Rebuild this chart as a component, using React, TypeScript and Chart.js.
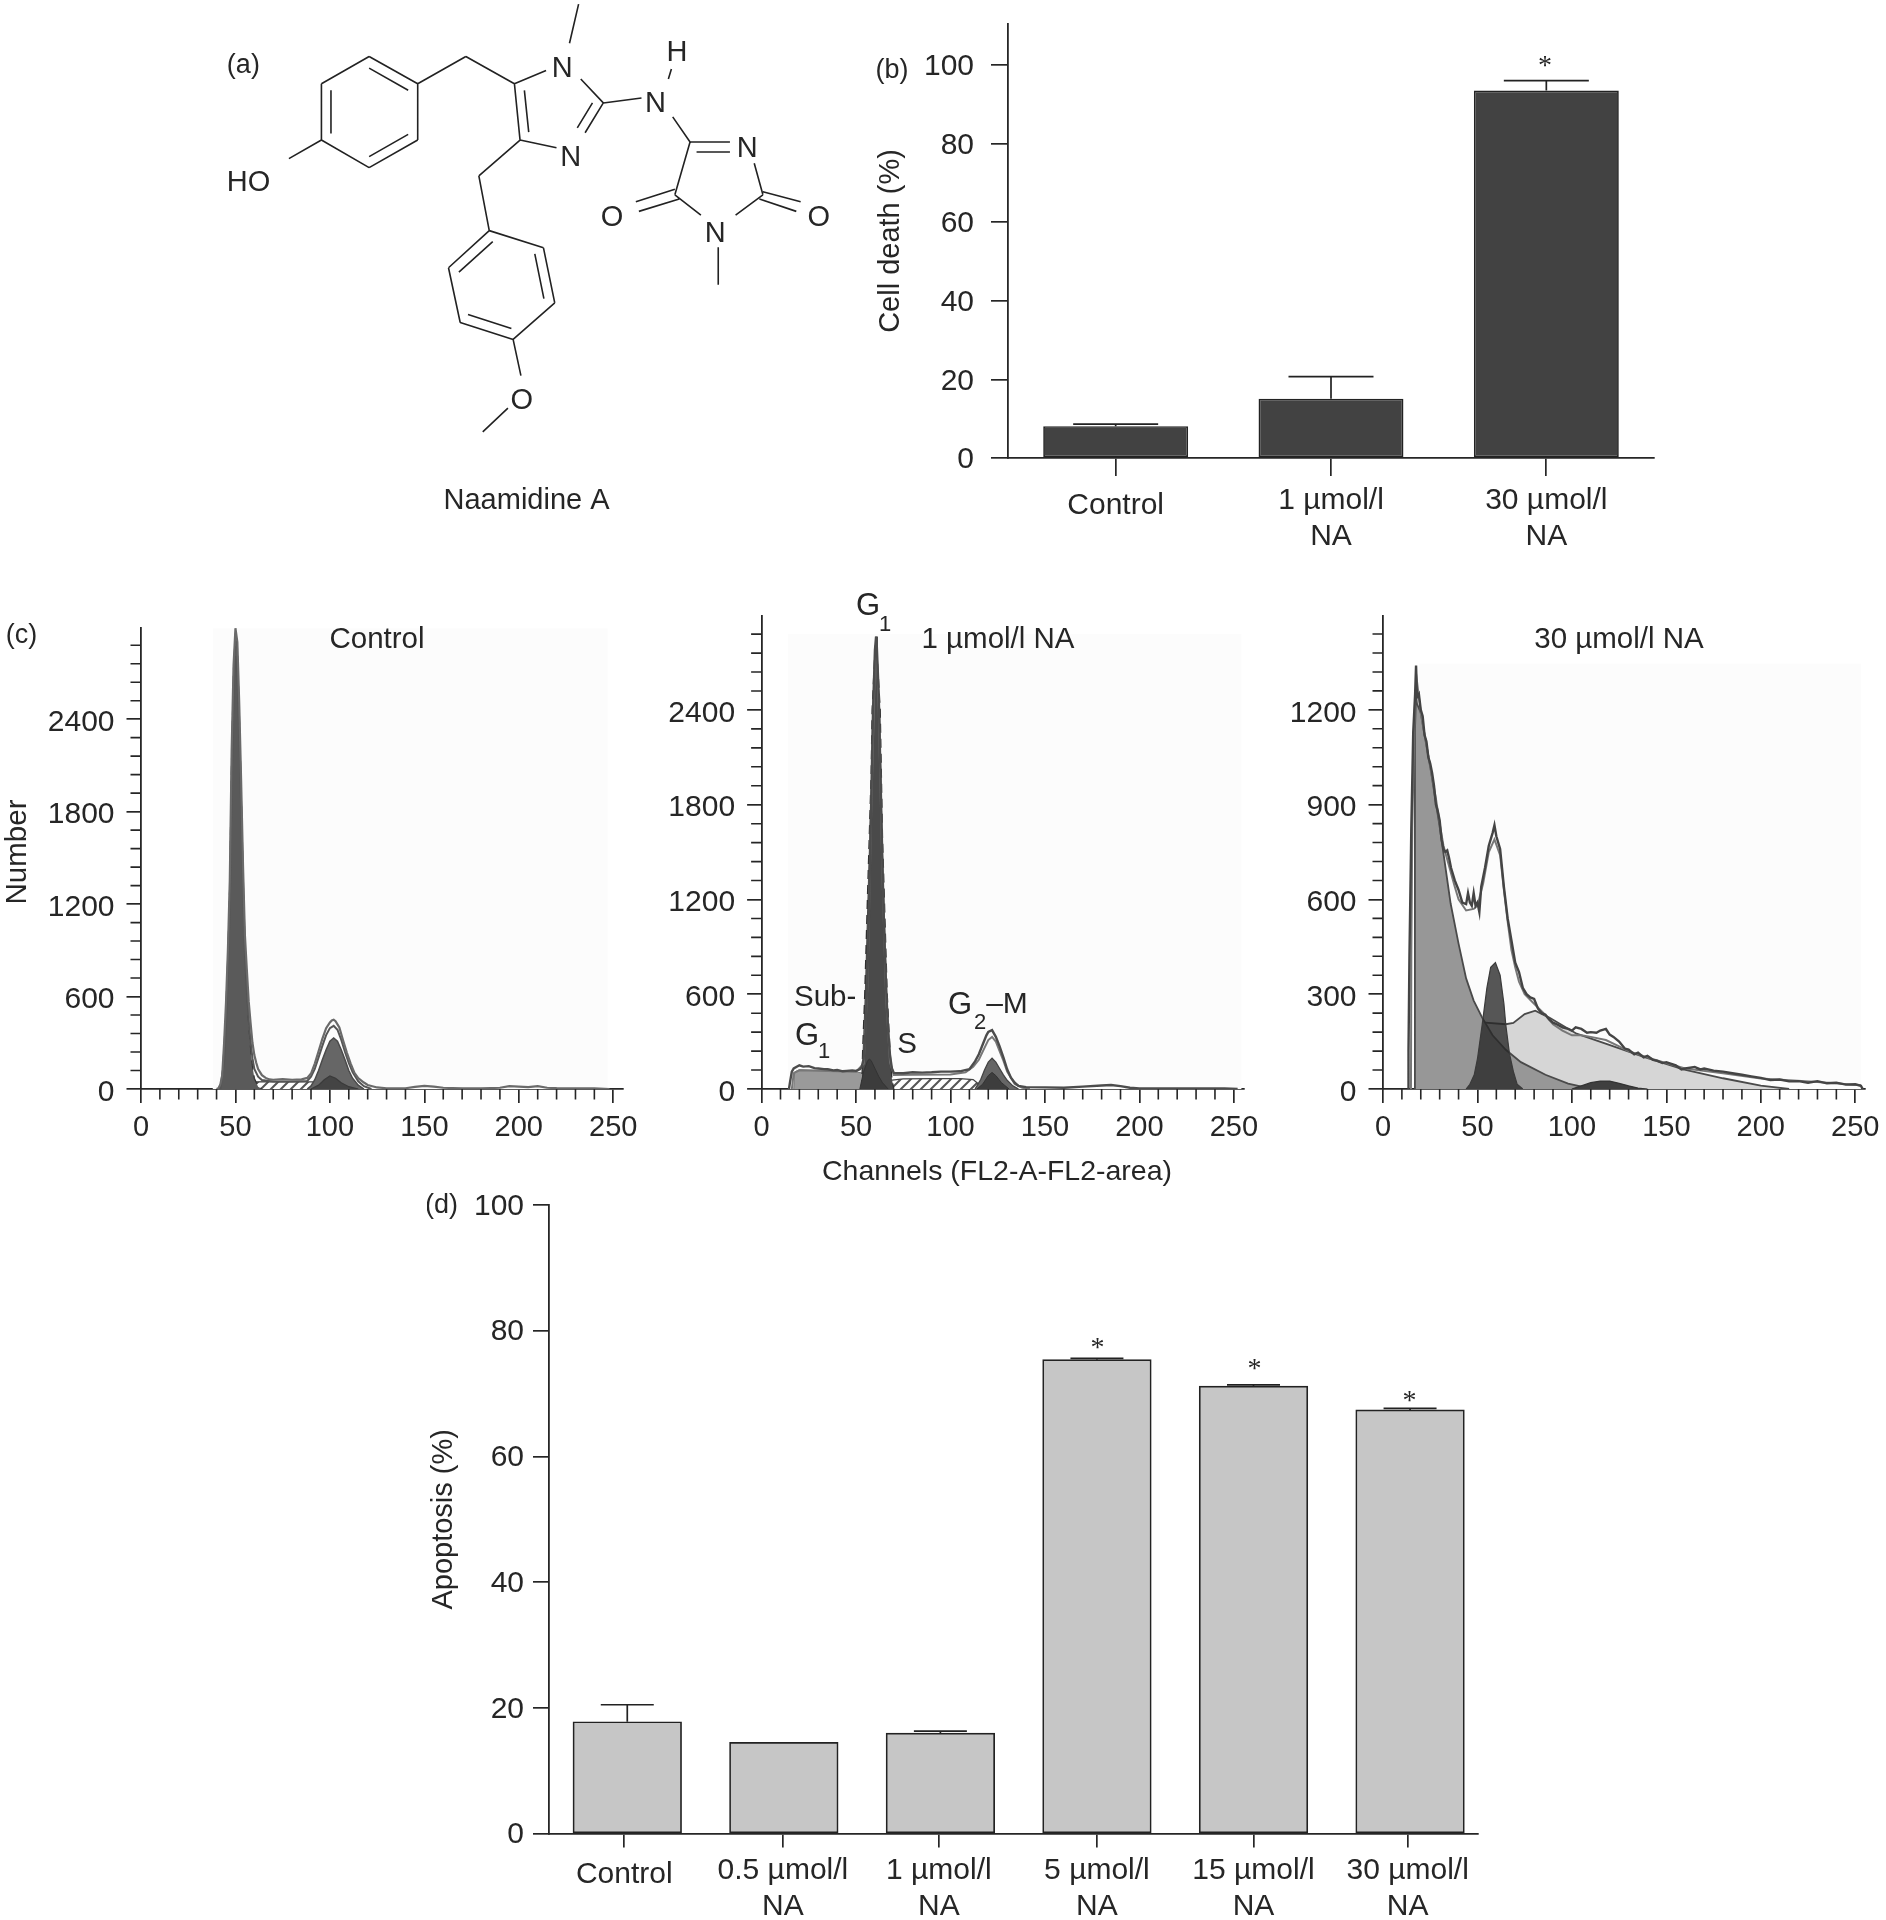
import React, { useEffect, useRef } from "react";
import { Chart, registerables } from "chart.js";

Chart.register(...registerables);

type Pair = [number, number];
type Rect = { L: number; T: number; W: number; H: number };
type Plot = { left: number; top: number; right: number; bottom: number };
type Note = { t: string; x: number; y: number; size?: number; rotate?: number; family?: string; align?: CanvasTextAlign };

const SANS = '"Liberation Sans", Arial, sans-serif';
const SERIF = '"Liberation Serif", serif';
const INK = "#262626";

// ---- panel (b) ----
const bCategories = [["Control"], ["1 µmol/l", "NA"], ["30 µmol/l", "NA"]];
const bValues = [8.1, 15.1, 93.5];
const bErrorTops = [8.6, 20.7, 96];
const bTicks = [0, 20, 40, 60, 80, 100];

// ---- panel (d) ----
const dCategories = [["Control"], ["0.5 µmol/l", "NA"], ["1 µmol/l", "NA"], ["5 µmol/l", "NA"], ["15 µmol/l", "NA"], ["30 µmol/l", "NA"]];
const dValues = [17.8, 14.5, 16, 75.4, 71.2, 67.4];
const dErrorTops = [20.5, 14.5, 16.3, 75.6, 71.4, 67.65];
const dTicks = [0, 20, 40, 60, 80, 100];
const dTickPositions = [-0.019, -0.006, -0.01, 0, 0, -0.015];

// ---- panel (c) axes ----
const cXTicks = [0, 50, 100, 150, 200, 250];
const cXMinor = [10, 20, 30, 40, 60, 70, 80, 90, 110, 120, 130, 140, 160, 170, 180, 190, 210, 220, 230, 240];
const c12YTicks = [0, 600, 1200, 1800, 2400];
const c12YMinor = [120, 240, 360, 480, 720, 840, 960, 1080, 1320, 1440, 1560, 1680, 1920, 2040, 2160, 2280, 2520, 2640, 2760, 2880];
const c3YTicks = [0, 300, 600, 900, 1200];
const c3YMinor = [60, 120, 180, 240, 360, 420, 480, 540, 660, 720, 780, 840, 960, 1020, 1080, 1140, 1260, 1320, 1380, 1440];

// ---- panel (c) Control ----
const c1Trace: Pair[] = [[40,0],[41,5],[42,30],[43,90],[44,300],[45,560],[46,900],[47,1350],[48,2200],[49,2750],[50,2990],[51,2900],[52,2500],[53,2000],[54,1450],[55,1000],[56,780],[57,570],[58,430],[59,300],[60,220],[61,170],[62,130],[64,90],[66,72],[68,62],[70,60],[75,64],[80,60],[85,63],[88,72],[90,100],[92,165],[94,245],[96,325],[98,395],[100,432],[101,445],[102,450],[103,440],[105,400],[107,315],[109,235],[111,165],[113,105],[115,70],[118,42],[120,26],[125,10],[130,5],[140,5],[145,14],[150,20],[155,15],[160,8],[170,5],[180,5],[190,8],[195,18],[200,15],[205,12],[210,18],[215,8],[220,6],[230,5],[240,4],[248,0]];
const c1Fit: Pair[] = [[42,0],[44,180],[45,420],[46,780],[47,1200],[48,2000],[49,2600],[50,2810],[51,2700],[52,2350],[53,1850],[54,1350],[55,900],[56,650],[57,450],[58,310],[59,200],[60,130],[62,80],[64,58],[70,48],[80,48],[88,52],[90,80],[92,130],[94,205],[96,280],[98,350],[100,395],[102,410],[104,385],[106,320],[108,240],[110,170],[112,110],[115,50],[118,18],[122,0]];
const c1G1: Pair[] = [[41,0],[42,25],[43,80],[44,280],[45,540],[46,880],[47,1330],[48,2170],[49,2730],[50,2960],[51,2870],[52,2460],[53,1960],[54,1400],[55,950],[56,660],[57,430],[58,270],[59,150],[60,70],[62,15],[64,0]];
const c1S: Pair[] = [[53,0],[56,40],[60,46],[70,48],[80,46],[90,46],[98,44],[104,20],[110,0]];
const c1G2: Pair[] = [[88,0],[90,20],[92,60],[94,120],[96,190],[98,255],[100,310],[102,331],[104,310],[106,255],[108,190],[110,120],[112,70],[115,25],[118,0]];
const c1G2Core: Pair[] = [[90,0],[94,25],[97,60],[100,85],[103,70],[106,40],[110,15],[115,0]];

// ---- panel (c) 1 µmol/l NA ----
const c2Trace: Pair[] = [[14.5,0],[15,40],[16,110],[17,130],[20,150],[22,142],[25,145],[28,132],[30,130],[33,126],[35,125],[38,118],[40,120],[43,112],[45,115],[48,118],[50,115],[52,125],[53,140],[54,190],[55,360],[56,700],[57,1200],[58,1800],[59,2400],[60,2780],[60.6,2865],[61,2800],[62,2500],[63,1950],[64,1400],[65,950],[66,620],[67,360],[68,210],[69,130],[70,102],[75,100],[80,106],[85,104],[90,106],[95,110],[100,110],[105,112],[110,125],[113,175],[115,220],[117,280],[119,340],[120,362],[122,373],[124,330],[126,270],[128,200],[130,125],[132,72],[134,40],[136,20],[140,12],[150,10],[160,8],[170,15],[180,22],[185,25],[190,18],[195,8],[200,4],[220,3],[235,4],[245,3],[252,0]];
const c2Fit: Pair[] = [[16,0],[17,100],[20,118],[30,115],[40,112],[50,110],[54,160],[56,650],[58,1750],[60,2700],[61,2750],[62,2420],[64,1350],[66,560],[68,170],[70,88],[80,90],[100,92],[108,105],[112,140],[115,185],[118,260],[120,310],[122,330],[124,300],[126,240],[128,180],[130,110],[134,32],[138,8],[142,0]];
const c2SubG1: Pair[] = [[17,0],[17.5,108],[20,122],[30,118],[40,112],[50,108],[54,100],[58,60],[62,20],[65,0]];
const c2G1: Pair[] = [[53,0],[53.5,250],[54.6,600],[56,1200],[58,2000],[58.5,2400],[60,2780],[60.6,2865],[61,2780],[62.8,2400],[64,1600],[65,1200],[66.5,600],[68,250],[69,60],[70,0]];
const c2Dip: Pair[] = [[52,0],[54,110],[56,175],[57,190],[58,180],[60,130],[62,80],[64,40],[67,0]];
const c2S: Pair[] = [[62,0],[68,55],[75,64],[90,66],[105,66],[112,60],[116,20],[120,0]];
const c2G2: Pair[] = [[113,0],[116,60],[118,120],[120,170],[122,195],[124,170],[126,130],[128,90],[130,55],[133,20],[136,0]];
const c2G2Core: Pair[] = [[114,0],[117,30],[120,85],[122,105],[124,85],[127,40],[131,0]];

// ---- panel (c) 30 µmol/l NA ----
const c3Trace: Pair[] = [[13.3,0],[13.5,120],[14,420],[15,830],[16,1130],[17,1250],[17.5,1340],[18,1240],[19,1250],[20,1200],[21,1180],[22,1120],[23,1100],[24,1050],[25,1030],[26,1000],[27,960],[28,900],[29,880],[30,850],[31,790],[32,760],[33,750],[34,755],[35,730],[36,700],[38,660],[40,630],[42,590],[44,585],[45,620],[46,590],[47,580],[48,620],[49,580],[50,590],[51,560],[52,640],[54,700],[56,770],[58,810],[59,835],[60,800],[62,760],[63,700],[64,640],[66,540],[68,470],[70,400],[71,385],[72,370],[74,320],[76,300],[78,290],[80,285],[82,255],[84,240],[86,235],[88,220],[90,210],[92,205],[95,195],[98,190],[100,185],[102,195],[105,190],[108,178],[110,180],[113,178],[115,185],[118,190],[120,172],[122,165],[125,150],[128,128],[130,125],[133,110],[135,115],[138,100],[140,105],[143,92],[145,90],[148,82],[150,85],[155,75],[158,62],[160,65],[165,70],[168,62],[170,65],[175,58],[180,55],[185,50],[190,45],[195,40],[200,35],[205,28],[210,30],[215,24],[220,25],[225,20],[230,25],[235,18],[240,20],[245,14],[250,15],[253,10],[254,0]];
const c3Fit: Pair[] = [[14.8,0],[15,420],[15.5,830],[16.5,1130],[17,1230],[18,1290],[20,1190],[22,1120],[25,1020],[28,920],[30,840],[32,770],[35,705],[38,640],[40,600],[44,565],[48,570],[50,580],[53,650],[56,750],[59,790],[62,740],[64,630],[66,530],[68,440],[70,385],[72,340],[75,300],[80,270],[85,240],[90,205],[95,185],[100,170],[105,170],[110,165],[118,155],[125,135],[130,120],[140,100],[150,82],[160,65],[180,50],[200,33],[230,22],[253,12]];
const c3SubG1: Pair[] = [[16.7,0],[16.9,1130],[17.5,1250],[18,1220],[20,1190],[25,1020],[30,830],[35.8,587],[40,460],[44,350],[48,280],[52.5,226],[58,170],[65,124],[73,85],[86,45],[98,17],[107,5],[115,0]];
const c3S: Pair[] = [[30,0],[31.7,22],[34,90],[38,170],[44,203],[52.5,211],[65,205],[69,209],[75,237],[80.6,248],[88,226],[102.5,175],[119,141],[138,102],[159,62],[180,34],[200,11],[215,0]];
const c3G1: Pair[] = [[44,0],[46,15],[48.3,45],[50,95],[52.5,203],[55,320],[57,385],[59.5,400],[62,360],[64,270],[65,203],[67,110],[69,56],[71,15],[74,0]];
const c3G2: Pair[] = [[100,0],[105,10],[110,20],[115,25],[120,25],[125,18],[130,10],[135,3],[140,0]];

// ---- panel (a): structure drawn through its own scales, in the units of the scale below ----
const bonds: number[][] = [
  [390,110,502,192],[502,192,502,362],[502,362,390,445],[390,445,280,362],[280,362,280,192],[280,192,390,110],
  [390,145,480,212],[302,212,302,342],[390,412,480,345],
  [280,362,205,418],[502,192,613,110],[613,110,725,192],
  [725,192,798,152],[878,178,930,250],[930,250,888,340],[905,250,870,325],[738,362,822,385],[725,192,738,362],[748,212,758,338],
  [852,70,873,-48],[930,250,1018,235],[1080,178,1087,148],[1090,292,1130,368],
  [1130,368,1222,368],[1145,398,1222,398],[1278,432,1298,527],[1298,527,1235,588],[1155,588,1095,527],[1095,527,1130,368],
  [1095,510,1005,548],[1105,540,1012,577],[1298,518,1385,548],[1290,540,1375,577],[1195,685,1195,798],
  [738,362,643,470],[643,470,667,635],
  [667,635,792,687],[792,687,818,853],[818,853,722,963],[722,963,600,912],[600,912,573,747],[573,747,667,635],
  [675,668,597,760],[772,705,793,840],[618,888,718,930],
  [722,963,740,1072],[710,1170,652,1242],
];
const atoms: Note[] = [
  { t: "N", x: 835, y: 149 }, { t: "N", x: 855, y: 416 }, { t: "N", x: 1050, y: 254 }, { t: "H", x: 1100, y: 101 },
  { t: "N", x: 1262, y: 388 }, { t: "N", x: 1188, y: 646 }, { t: "O", x: 950, y: 598 }, { t: "O", x: 1427, y: 598 },
  { t: "HO", x: 112, y: 491 }, { t: "O", x: 742, y: 1148 }, { t: "(a)", x: 100, y: 136, size: 27 }, { t: "Naamidine A", x: 753, y: 1449 },
];

function xy(p: Pair[]) {
  return p.map(([x, y]) => ({ x, y }));
}

function notesPlugin(notes: Note[], rect: Rect) {
  return {
    id: "notes",
    afterDraw(chart: any) {
      const c = chart.ctx;
      for (const n of notes) {
        c.save();
        c.font = `${n.size ?? 29.5}px ${n.family ?? SANS}`;
        c.fillStyle = INK;
        c.textAlign = n.align ?? "center";
        c.textBaseline = "middle";
        c.translate(n.x - rect.L, n.y - rect.T);
        if (n.rotate) c.rotate(n.rotate);
        c.fillText(n.t, 0, 0);
        c.restore();
      }
    },
  };
}

function minorTicks(xs: number[], ys: number[]) {
  return {
    id: "minorTicks",
    afterDraw(chart: any) {
      const c = chart.ctx;
      const { x, y } = chart.scales;
      c.save();
      c.strokeStyle = INK;
      c.lineWidth = 1.6;
      c.beginPath();
      for (const v of xs) {
        const p = x.getPixelForValue(v);
        c.moveTo(p, y.bottom);
        c.lineTo(p, y.bottom + 10.5);
      }
      for (const v of ys) {
        const p = y.getPixelForValue(v);
        c.moveTo(x.left, p);
        c.lineTo(x.left - 10.5, p);
      }
      c.stroke();
      c.restore();
    },
  };
}

function backdrop(x0: number, x1: number, yTop: number) {
  return {
    id: "backdrop",
    beforeDatasetsDraw(chart: any) {
      const { x, y } = chart.scales;
      const c = chart.ctx;
      c.save();
      c.fillStyle = "#fcfcfc";
      const l = x.getPixelForValue(x0);
      const t = y.getPixelForValue(yTop);
      c.fillRect(l, t, x.getPixelForValue(x1) - l, y.getPixelForValue(0) - t);
      c.restore();
    },
  };
}

function errorBars(tops: number[], vals: number[], capWidth: number) {
  return {
    id: "errorBars",
    afterDatasetsDraw(chart: any) {
      const { x, y } = chart.scales;
      const c = chart.ctx;
      c.save();
      c.strokeStyle = "#222";
      c.lineWidth = 1.7;
      tops.forEach((top, i) => {
        if (top <= vals[i]) return;
        const px = x.getPixelForValue(i);
        const t = y.getPixelForValue(top);
        c.beginPath();
        c.moveTo(px, y.getPixelForValue(vals[i]));
        c.lineTo(px, t);
        c.moveTo(px - capWidth / 2, t);
        c.lineTo(px + capWidth / 2, t);
        c.stroke();
      });
      c.restore();
    },
  };
}

function hatch() {
  const cv = document.createElement("canvas");
  cv.width = 10;
  cv.height = 10;
  const g = cv.getContext("2d")!;
  g.fillStyle = "#ffffff";
  g.fillRect(0, 0, 10, 10);
  g.strokeStyle = "#555";
  g.lineWidth = 2;
  g.beginPath();
  g.moveTo(-2, 12);
  g.lineTo(12, -2);
  g.moveTo(-7, 7);
  g.lineTo(7, -7);
  g.moveTo(3, 17);
  g.lineTo(17, 3);
  g.stroke();
  return g.createPattern(cv, "repeat")!;
}

function frame(rect: Rect, plot: Plot) {
  return {
    padding: { left: 0, top: plot.top - rect.T, right: rect.L + rect.W - plot.right, bottom: 0 },
    yWidth: plot.left - rect.L,
    xHeight: rect.T + rect.H - plot.bottom,
  };
}

function clearPadding(s: any) {
  s.paddingTop = 0;
  s.paddingBottom = 0;
  s.paddingLeft = 0;
  s.paddingRight = 0;
}

function axis(fit: (s: any) => void, ticksList: number[] | null, tickLength: number, padding: number, size: number, extra: any = {}, labelOffset = 0) {
  return {
    grid: { drawOnChartArea: false, color: INK, lineWidth: 1.7, tickLength, offset: false },
    border: { color: INK, width: 1.8 },
    ticks: { color: INK, padding, labelOffset, autoSkip: false, maxRotation: 0, minRotation: 0, font: { family: SANS, size, lineHeight: 36 / size }, callback: (v: any) => String(v) },
    afterFit: (s: any) => { fit(s); clearPadding(s); },
    ...(ticksList ? { afterBuildTicks: (s: any) => { s.ticks = ticksList.map((value) => ({ value })); } } : {}),
    ...extra,
  };
}

const bRect: Rect = { L: 874, T: 10, W: 798, H: 540 };
const bPlot: Plot = { left: 1008, top: 24, right: 1654, bottom: 458 };
const dRect: Rect = { L: 427, T: 1190, W: 1079, H: 730 };
const dPlot: Plot = { left: 549, top: 1205, right: 1478, bottom: 1833.6 };
const c1Rect: Rect = { L: 0, T: 590, W: 650, H: 570 };
const c1Plot: Plot = { left: 141, top: 627.5, right: 623, bottom: 1089 };
const c2Rect: Rect = { L: 640, T: 590, W: 640, H: 600 };
const c2Plot: Plot = { left: 761.6, top: 616, right: 1244, bottom: 1089 };
const c3Rect: Rect = { L: 1270, T: 600, W: 616, H: 560 };
const c3Plot: Plot = { left: 1383, top: 616, right: 1865, bottom: 1089 };

function barB() {
  const f = frame(bRect, bPlot);
  return {
    type: "bar",
    data: {
      labels: bCategories,
      datasets: [{ label: "Cell death (%)", data: bValues, backgroundColor: "#424242", borderColor: "#222", borderWidth: 1.7, borderSkipped: false, categoryPercentage: 1, barPercentage: 0.673 }],
    },
    plugins: [
      errorBars(bErrorTops, bValues, 85),
      notesPlugin([{ t: "(b)", x: 892, y: 71, size: 27 }, { t: "*", x: 1545, y: 67, size: 28, family: SERIF }], bRect),
    ],
    options: {
      animation: false, responsive: false, devicePixelRatio: 1,
      layout: { padding: f.padding, autoPadding: false },
      plugins: { legend: { display: false }, tooltip: { enabled: false } },
      scales: {
        x: axis((s) => { s.height = f.xHeight; }, null, 18, 7, 30, {
          ticks: { color: INK, padding: 7, autoSkip: false, maxRotation: 0, minRotation: 0, font: (ctx: any) => ({ family: SANS, size: 30, lineHeight: (ctx.index === 0 ? 46 : 36) / 30 }) },
        }),
        y: axis((s) => { s.width = f.yWidth; }, bTicks, 17, 17, 30, {
          min: 0, max: 110.4,
          title: { display: true, text: "Cell death (%)", color: INK, padding: 0, font: { family: SANS, size: 29 } },
        }, 2),
      },
    },
  };
}

function barD() {
  const f = frame(dRect, dPlot);
  return {
    type: "bar",
    data: {
      datasets: [{ label: "Apoptosis (%)", data: dValues.map((y, x) => ({ x, y })), backgroundColor: "#c6c6c6", borderColor: "#222", borderWidth: 1.7, borderSkipped: false, barThickness: 108.6 }],
    },
    plugins: [
      errorBars(dErrorTops, dValues, 53),
      notesPlugin([
        { t: "(d)", x: 441.6, y: 1206, size: 27 },
        { t: "*", x: 1097.5, y: 1349, size: 28, family: SERIF },
        { t: "*", x: 1254.6, y: 1369.5, size: 28, family: SERIF },
        { t: "*", x: 1409.6, y: 1402, size: 28, family: SERIF },
      ], dRect),
    ],
    options: {
      animation: false, responsive: false, devicePixelRatio: 1,
      layout: { padding: f.padding, autoPadding: false },
      plugins: { legend: { display: false }, tooltip: { enabled: false } },
      scales: {
        x: axis((s) => { s.height = f.xHeight; }, dTickPositions.map((d, i) => i + d), 14, 5.5, 30, {
          type: "linear", min: -0.5, max: 5.434, offset: false,
          ticks: { color: INK, padding: 5.5, autoSkip: false, maxRotation: 0, minRotation: 0, font: (ctx: any) => ({ family: SANS, size: 30, lineHeight: (ctx.index === 0 ? 44 : 36) / 30 }), callback: (v: any) => dCategories[Math.round(v)] },
        }),
        y: axis((s) => { s.width = f.yWidth; }, dTicks, 16, 9, 30, {
          min: 0, max: 100,
          title: { display: true, text: "Apoptosis (%)", color: INK, padding: 0, font: { family: SANS, size: 29 } },
        }, 1.5),
      },
    },
  };
}

function line(data: Pair[], color: string, width: number, fill: any = null, extra: any = {}) {
  return {
    data: xy(data), borderColor: color, borderWidth: width, pointRadius: 0, tension: 0,
    fill: fill ? "origin" : false, backgroundColor: fill ?? "transparent", ...extra,
  };
}

function histogram(rect: Rect, plot: Plot, yMax: number, yTicks: number[], yMinor: number[], layers: any[], notes: Note[], back: number[]) {
  const f = frame(rect, plot);
  const n = layers.length;
  return {
    type: "line",
    data: { datasets: layers.map((d, i) => ({ ...d, order: n - i })) },
    plugins: [backdrop(back[0], back[1], back[2]), minorTicks(cXMinor, yMinor), notesPlugin(notes, rect)],
    options: {
      animation: false, responsive: false, devicePixelRatio: 1,
      layout: { padding: f.padding, autoPadding: false },
      plugins: { legend: { display: false }, tooltip: { enabled: false } },
      scales: {
        x: axis((s) => { s.height = f.xHeight; }, cXTicks, 14, 7, 29, { type: "linear", min: 0, max: (plot.right - plot.left) / 1.889 }),
        y: axis((s) => { s.width = f.yWidth; }, yTicks, 14.5, 12, 30, { min: 0, max: yMax }, 3.5),
      },
    },
  };
}

function chartC1() {
  return histogram(c1Rect, c1Plot, 2995, c12YTicks, c12YMinor, [
    line(c1S, "#444", 1.3, hatch()),
    line(c1G2, "#4a4a4a", 1.5, "#666"),
    line(c1G2Core, "#3a3a3a", 1.2, "#444"),
    line(c1G1, "#333", 1.3, "#5a5a5a", { borderDash: [9, 6] }),
    line(c1Fit, "#555", 2),
    line(c1Trace, "#6a6a6a", 2.2),
  ], [
    { t: "(c)", x: 21.6, y: 636, size: 27 },
    { t: "Control", x: 377, y: 640 },
    { t: "Number", x: 17.5, y: 852, rotate: -Math.PI / 2 },
  ], [38, 247, 2990]);
}

function chartC2() {
  return histogram(c2Rect, c2Plot, 2995, c12YTicks, c12YMinor, [
    line(c2SubG1, "#777", 1, "#9a9a9a"),
    line(c2S, "#444", 1.3, hatch()),
    line(c2G2, "#444", 1.3, "#666"),
    line(c2G2Core, "#333", 1, "#3d3d3d"),
    line(c2G1, "#2e2e2e", 1.3, "#4a4a4a", { borderDash: [9, 6] }),
    line(c2Dip, "#333", 1, "#3c3c3c"),
    line(c2Fit, "#777", 2),
    line(c2Trace, "#4c4c4c", 2.4),
  ], [
    { t: "1 µmol/l NA", x: 998, y: 640 },
    { t: "G", x: 868, y: 606, size: 31 },
    { t: "1", x: 885, y: 625, size: 22 },
    { t: "Sub-", x: 794, y: 998, align: "left" },
    { t: "G", x: 807, y: 1036, size: 31 },
    { t: "1", x: 824, y: 1052, size: 22 },
    { t: "S", x: 907, y: 1045 },
    { t: "G", x: 960, y: 1005, size: 31 },
    { t: "2", x: 980, y: 1023, size: 22 },
    { t: "–M", x: 1007, y: 1005, size: 30 },
    { t: "Channels (FL2-A-FL2-area)", x: 997, y: 1172, size: 28.5 },
  ], [14, 254, 2880]);
}

function chartC3() {
  return histogram(c3Rect, c3Plot, 1497, c3YTicks, c3YMinor, [
    line(c3S, "#4a4a4a", 1.8, "#d6d6d6"),
    line(c3SubG1, "#4a4a4a", 1.8, "#979797"),
    line(c3G1, "#3a3a3a", 1.2, "rgba(38,38,38,0.78)"),
    line(c3G2, "#333", 1.2, "#3f3f3f"),
    line(c3Fit, "#777", 2),
    line(c3Trace, "#444", 2.4),
  ], [
    { t: "30 µmol/l NA", x: 1619, y: 640 },
  ], [19, 253, 1346]);
}

function molecule() {
  const pts: any[] = [];
  for (const [a, b, c, d] of bonds) {
    pts.push({ x: a, y: b }, { x: c, y: d }, { x: NaN, y: NaN });
  }
  return {
    type: "scatter",
    data: { datasets: [{ label: "Naamidine A", data: pts, showLine: true, spanGaps: false, borderColor: "#222", borderWidth: 1.6, pointRadius: 0 }] },
    plugins: [{
      id: "atoms",
      afterDraw(chart: any) {
        const { x, y } = chart.scales;
        const c = chart.ctx;
        c.save();
        c.fillStyle = INK;
        c.textAlign = "center";
        c.textBaseline = "middle";
        for (const a of atoms) {
          c.font = `${a.size ?? 29}px ${SANS}`;
          c.fillText(a.t, x.getPixelForValue(a.x), y.getPixelForValue(a.y));
        }
        c.restore();
      },
    }],
    options: {
      animation: false, responsive: false, devicePixelRatio: 1,
      layout: { padding: 0, autoPadding: false },
      plugins: { legend: { display: false }, tooltip: { enabled: false } },
      scales: {
        x: { type: "linear", display: false, min: 0, max: 1568, afterFit: clearPadding },
        y: { type: "linear", display: false, reverse: true, min: -60.3, max: 1567.8, afterFit: clearPadding },
      },
    },
  };
}

function Panel({ rect, build }: { rect: Rect; build: () => any }) {
  const ref = useRef<HTMLCanvasElement | null>(null);
  useEffect(() => {
    const chart = new Chart(ref.current as HTMLCanvasElement, build());
    return () => chart.destroy();
  }, []);
  return (
    <canvas
      ref={ref}
      width={rect.W}
      height={rect.H}
      style={{ position: "absolute", left: rect.L, top: rect.T, width: rect.W, height: rect.H }}
    />
  );
}

export default function App() {
  return (
    <div style={{ position: "absolute", left: 0, top: 0, width: 1886, height: 1920, overflow: "hidden", background: "#fff" }}>
      <Panel rect={{ L: 200, T: 0, W: 680, H: 540 }} build={molecule} />
      <Panel rect={bRect} build={barB} />
      <Panel rect={c1Rect} build={chartC1} />
      <Panel rect={c2Rect} build={chartC2} />
      <Panel rect={c3Rect} build={chartC3} />
      <Panel rect={dRect} build={barD} />
    </div>
  );
}
